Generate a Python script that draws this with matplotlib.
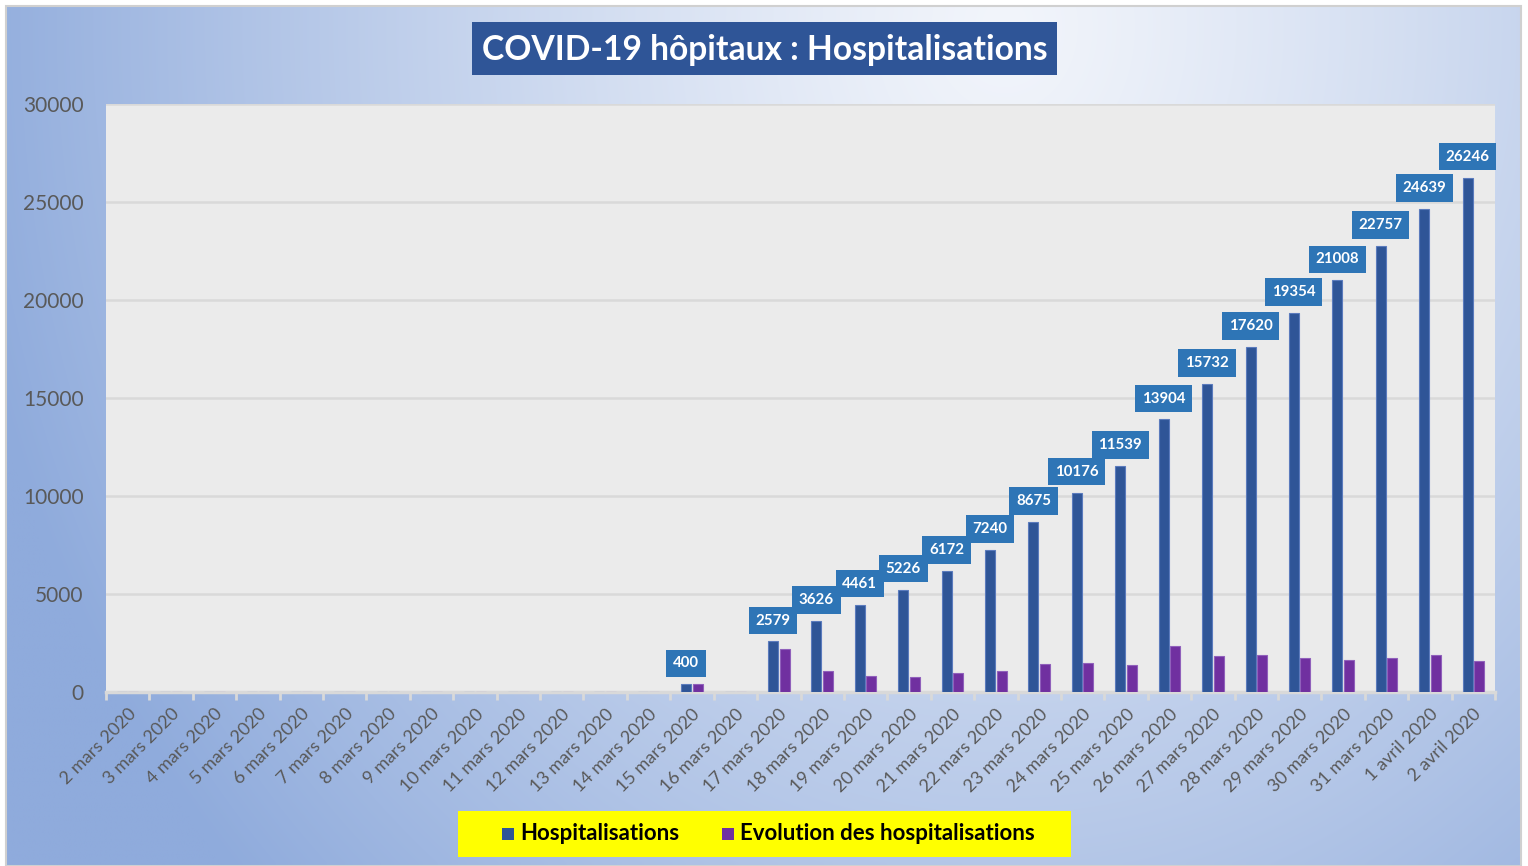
import numpy as np
import matplotlib
matplotlib.use("Agg")
import matplotlib.pyplot as plt
from matplotlib.patches import Rectangle

# ---------------- data ----------------
categories = [f"{d} mars 2020" for d in range(2, 32)] + ["1 avril 2020", "2 avril 2020"]
hospitalisations = [0]*13 + [400, 0, 2579, 3626, 4461, 5226, 6172, 7240, 8675, 10176,
                              11539, 13904, 15732, 17620, 19354, 21008, 22757, 24639, 26246]
evolution = [0]*13 + [400, 0, 2179, 1047, 835, 765, 946, 1068, 1435, 1501,
                       1363, 2365, 1828, 1888, 1734, 1654, 1749, 1882, 1607]
title_text = "COVID-19 hôpitaux : Hospitalisations"
legend_labels = ["Hospitalisations", "Evolution des hospitalisations"]
yticks = [0, 5000, 10000, 15000, 20000, 25000, 30000]

# ---------------- style ----------------
W, H = 1528, 866
DPI = 100
BLUE = "#2f5597"
PURPLE = "#7030a0"
LABEL_BOX = "#2e75b6"
FONT = ["Lato", "DejaVu Sans"]
plt.rcParams["font.family"] = FONT

fig = plt.figure(figsize=(W / DPI, H / DPI), dpi=DPI)
fig.patch.set_facecolor("white")

def fx(px):
    return px / W

def fy(py):
    return 1 - py / H

# background gradient
bg = fig.add_axes([fx(7), fy(865), fx(1520 - 7), (865 - 7) / H], zorder=-10)
ny, nx = 200, 350
yy, xx = np.mgrid[0:1:ny * 1j, 0:1:nx * 1j]
r = np.sqrt(((xx - 0.66) / 0.7) ** 2 + ((yy - 0.02) / 1.45) ** 2)
t = np.clip(r, 0, 1) ** 1.2
light = np.array([0xf2, 0xf5, 0xfb]) / 255
dark = np.array([0x8f, 0xab, 0xdc]) / 255
img = light[None, None, :] * (1 - t[..., None]) + dark[None, None, :] * t[..., None]
bg.imshow(img, aspect="auto", extent=[0, 1, 1, 0], interpolation="bilinear")
bg.set_axis_off()
fig.add_artist(Rectangle((fx(6), fy(866)), fx(1521 - 6), (866 - 6) / H,
                         transform=fig.transFigure, fill=False,
                         edgecolor="#d0d0d0", linewidth=1.5, zorder=-5))

# main axes
L, R, T, B = 106, 1495, 104, 692
ax = fig.add_axes([fx(L), fy(B), fx(R - L), (B - T) / H])
ax.set_facecolor("#ebebeb")
n = len(categories)
x = np.arange(n)
bw = 0.23
gap = 0.035
xb = x - bw / 2 - gap / 2
xp = x + bw / 2 + gap / 2
ax.bar(xb, hospitalisations, width=bw, color=BLUE, edgecolor="#5b7bbd", linewidth=0.8, zorder=3)
ax.bar(xp, evolution, width=bw, color=PURPLE, edgecolor="#9060bb", linewidth=0.8, zorder=3)

ax.set_xlim(-0.5, n - 0.5)
ax.set_ylim(0, 30000)
ax.set_yticks(yticks)
ax.set_yticklabels([str(v) for v in yticks], fontsize=15, color="#595959")
ax.yaxis.grid(True, color="#d9d9d9", linewidth=1.8, zorder=0)
ax.set_axisbelow(True)
for s in ["left", "right", "top"]:
    ax.spines[s].set_visible(False)
ax.spines["bottom"].set_color("#d9d9d9")
ax.spines["bottom"].set_linewidth(2.5)
ax.tick_params(axis="y", length=0, pad=16)

ax.set_xticks(x)
ax.set_xticklabels(categories, rotation=45, ha="right", rotation_mode="anchor",
                   fontsize=13, color="#595959")
ax.tick_params(axis="x", length=0, pad=10)
ax.set_xticks(np.arange(-0.5, n, 1.0), minor=True)
ax.tick_params(axis="x", which="minor", length=6, width=2, color="#d9d9d9")

for xi, v in zip(xb, hospitalisations):
    if v > 0:
        ax.annotate(str(v), xy=(xi, v), xytext=(0, 10), textcoords="offset points",
                    ha="center", va="bottom", fontsize=10.8, fontweight="bold", color="white",
                    bbox=dict(boxstyle="square,pad=0.45", facecolor=LABEL_BOX, edgecolor="none"),
                    zorder=5, annotation_clip=False)

# title box
fig.add_artist(Rectangle((fx(472), fy(75)), fx(1057 - 472), (75 - 22) / H,
                         transform=fig.transFigure, facecolor=BLUE, edgecolor="none"))
fig.text(fx(765), fy(50), title_text, ha="center", va="center", fontsize=24.2,
         fontweight="bold", color="white")

# legend box
fig.add_artist(Rectangle((fx(458), fy(857)), fx(1071 - 458), (857 - 811) / H,
                         transform=fig.transFigure, facecolor="#ffff00", edgecolor="none"))
fig.add_artist(Rectangle((fx(502), fy(840)), fx(12), 12 / H, transform=fig.transFigure,
                         facecolor=BLUE, edgecolor="none"))
fig.text(fx(520), fy(834), legend_labels[0], ha="left", va="center", fontsize=16,
         fontweight="bold", color="black")
fig.add_artist(Rectangle((fx(722), fy(840)), fx(12), 12 / H, transform=fig.transFigure,
                         facecolor=PURPLE, edgecolor="none"))
fig.text(fx(740), fy(834), legend_labels[1], ha="left", va="center", fontsize=16,
         fontweight="bold", color="black")

fig.savefig("out.png", dpi=DPI)
